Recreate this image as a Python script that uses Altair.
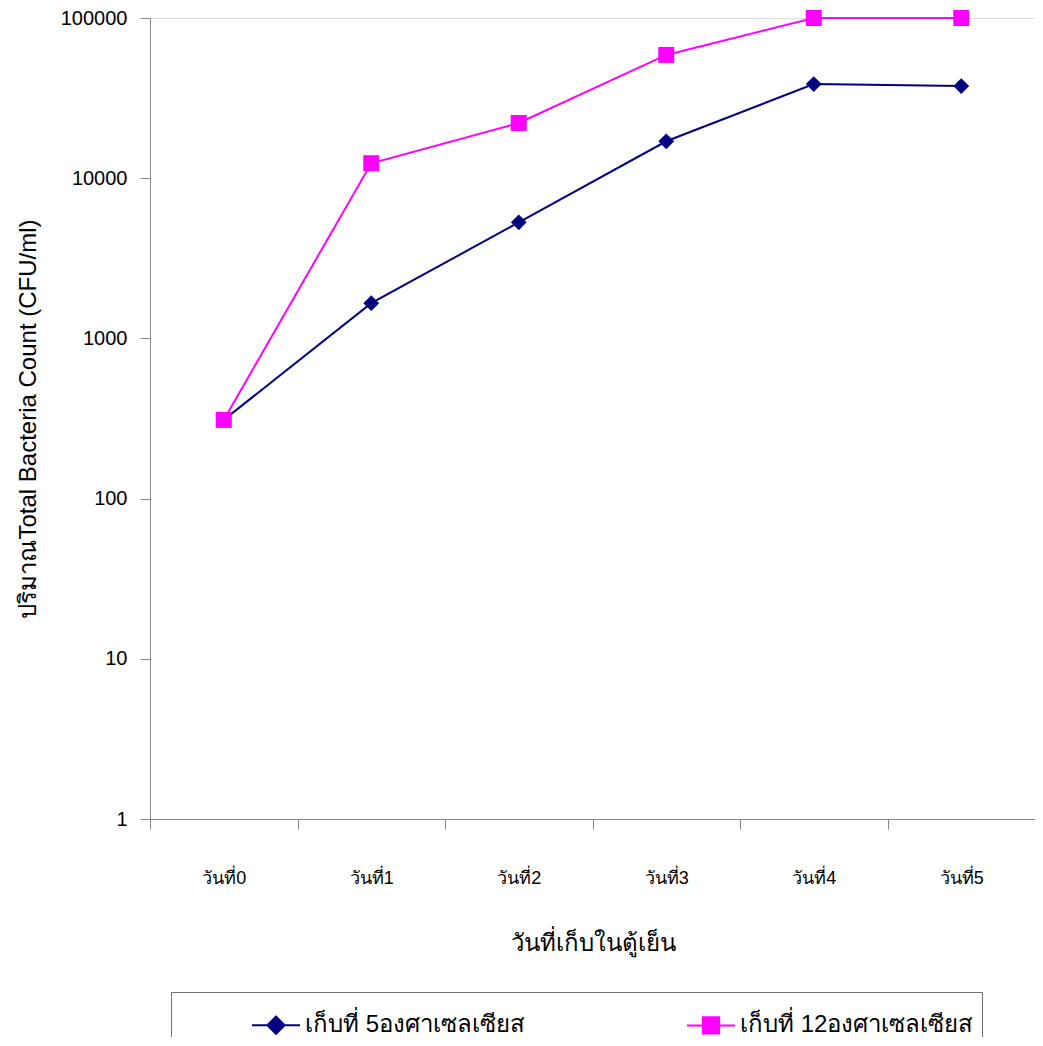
import altair as alt
import pandas as pd

days = ["วันที่0", "วันที่1", "วันที่2", "วันที่3", "วันที่4", "วันที่5"]
series_names = ["เก็บที่ 5องศาเซลเซียส", "เก็บที่ 12องศาเซลเซียส"]
temp5 = [310, 1660, 5300, 17000, 38700, 37600]
temp12 = [310, 12400, 22100, 58800, 100000, 100000]
y_ticks = [1, 10, 100, 1000, 10000, 100000]
colors = ["#000080", "#FF00FF"]

rows = []
for d, v in zip(days, temp5):
    rows.append({"day": d, "value": v, "series": series_names[0]})
for d, v in zip(days, temp12):
    rows.append({"day": d, "value": v, "series": series_names[1]})
df = pd.DataFrame(rows)

# hidden data (below the axis domain, clipped) only used to build the legend
legend_df = pd.DataFrame({"day": [days[0], days[0]], "value": [0.5, 0.5], "series": series_names})

FONT = "Liberation Sans"

x_enc = alt.X(
    "day:N",
    sort=days,
    scale=alt.Scale(type="band", domain=days, paddingInner=0, paddingOuter=0),
    axis=alt.Axis(
        title="วันที่เก็บในตู้เย็น",
        labelAngle=0,
        tickBand="extent",
        tickSize=10,
        labelPadding=40,
        titlePadding=44,
        labelFontSize=18,
        titleFontSize=24,
        titleFontWeight="normal",
    ),
)
y_enc = alt.Y(
    "value:Q",
    scale=alt.Scale(type="log", domain=[1, 100000], nice=False),
    axis=alt.Axis(
        title="ปริมาณTotal Bacteria Count (CFU/ml)",
        values=y_ticks,
        format="d",
        tickSize=10,
        labelPadding=13,
        titlePadding=20,
        labelFontSize=20,
        titleFontSize=24,
        titleFontWeight="normal",
        grid=False,
    ),
)

base = alt.Chart(df).encode(x=x_enc, y=y_enc)

line5 = base.transform_filter(alt.datum.series == series_names[0]).mark_line(color=colors[0], strokeWidth=2)
pts5 = base.transform_filter(alt.datum.series == series_names[0]).mark_point(
    shape="diamond", filled=True, color=colors[0], size=250, opacity=1)
line12 = base.transform_filter(alt.datum.series == series_names[1]).mark_line(color=colors[1], strokeWidth=2)
pts12 = base.transform_filter(alt.datum.series == series_names[1]).mark_point(
    shape="square", filled=True, color=colors[1], size=256, opacity=1)

diamond_path = "M-1,0L1,0M0,-0.36L0.36,0L0,0.36L-0.36,0Z"
square_path = "M-1,0L1,0M-0.34,-0.34L0.34,-0.34L0.34,0.34L-0.34,0.34Z"

legend_layer = alt.Chart(legend_df).mark_point(filled=True, strokeWidth=2, opacity=1, clip=True).encode(
    x=alt.X("day:N", sort=days),
    y=alt.Y("value:Q"),
    shape=alt.Shape(
        "series:N",
        sort=series_names,
        scale=alt.Scale(domain=series_names, range=[diamond_path, square_path]),
        legend=alt.Legend(
            title=None,
            orient="none",
            legendX=21,
            legendY=974,
            direction="horizontal",
            columns=2,
            columnPadding=88,
            symbolSize=2300,
            symbolStrokeWidth=2,
            symbolOffset=72,
            labelOffset=4,
            labelFontSize=24,
            labelLimit=0,
            padding=8,
            strokeColor="#707070",
            fillColor="white",
        ),
    ),
    fill=alt.Fill("series:N", sort=series_names, scale=alt.Scale(domain=series_names, range=colors)),
    stroke=alt.Stroke("series:N", sort=series_names, scale=alt.Scale(domain=series_names, range=colors)),
)

chart = alt.layer(line5, pts5, line12, pts12, legend_layer).properties(
    width=885,
    height=801,
    autosize=alt.AutoSizeParams(type="none"),
    padding={"left": 142, "top": 10, "right": 0, "bottom": 218},
).configure_view(
    stroke="black", strokeWidth=1
).configure_axis(
    domainColor="black",
    domainWidth=1.5,
    tickColor="#333333",
    labelColor="#222222",
    titleColor="#222222",
    labelFont=FONT,
    titleFont=FONT,
).configure_legend(
    labelFont=FONT,
    labelColor="#222222",
).configure(background="white")

chart.save("out.html", embed_options={"renderer": "svg", "actions": False})
